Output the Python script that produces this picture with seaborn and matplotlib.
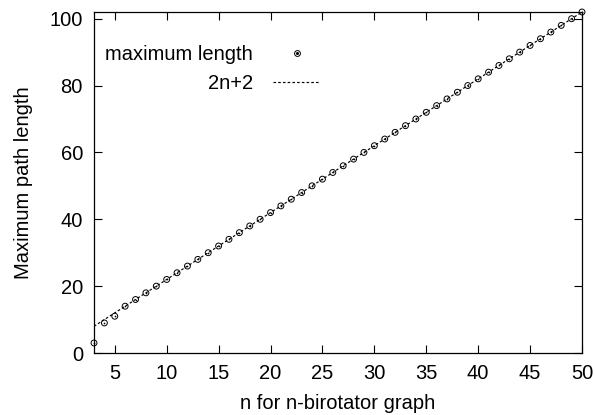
import numpy as np
import pandas as pd
import matplotlib
matplotlib.use('Agg')
import matplotlib.pyplot as plt
import seaborn as sns
from matplotlib.legend_handler import HandlerTuple

# n-birotator graph sizes and measured maximum path lengths
n_values = list(range(3, 51))
max_lengths = [3, 9, 11, 14, 16, 18, 20, 22, 24, 26, 28, 30, 32, 34, 36, 38,
               40, 42, 44, 46, 48, 50, 52, 54, 56, 58, 60, 62, 64, 66, 68, 70,
               72, 74, 76, 78, 80, 82, 84, 86, 88, 90, 92, 94, 96, 98, 100, 102]

# reference line 2n+2 (end points)
line_n = [3, 50]
line_y = [8, 102]

x_ticks = [5, 10, 15, 20, 25, 30, 35, 40, 45, 50]
y_ticks = [0, 20, 40, 60, 80, 100]

df_points = pd.DataFrame({'n': n_values, 'length': max_lengths})
df_line = pd.DataFrame({'n': line_n, 'length': line_y})

sns.set_style('ticks')
plt.rcParams['font.family'] = ['Liberation Sans', 'DejaVu Sans']
plt.rcParams['text.color'] = 'black'
plt.rcParams['axes.labelcolor'] = 'black'
fs = 14.5
plt.rcParams['font.size'] = fs

fig = plt.figure(figsize=(5.95, 4.15), dpi=100)
ax = fig.add_axes([94 / 595, 62 / 415, 488 / 595, 341 / 415])

sns.lineplot(data=df_line, x='n', y='length', ax=ax, color='black',
             linewidth=0.85, dashes=False)
ax.lines[-1].set_dashes((2.2, 1.8))

sns.scatterplot(data=df_points, x='n', y='length', ax=ax, marker='o',
                facecolor='none', edgecolor='black', linewidth=0.7, s=18,
                zorder=3, clip_on=False)
sns.scatterplot(data=df_points, x='n', y='length', ax=ax, marker='o',
                color='black', linewidth=0, s=1.5, zorder=4, clip_on=False)

ax.set_xlim(3, 50)
ax.set_ylim(0, 102)
ax.set_xticks(x_ticks)
ax.set_yticks(y_ticks)
ax.tick_params(axis='both', direction='in', length=6, width=0.8,
               top=True, right=True, labelsize=fs, pad=8, colors='black')
for s in ax.spines.values():
    s.set_visible(True)
    s.set_linewidth(0.9)
    s.set_color('black')

ax.set_xlabel('n for n-birotator graph', fontsize=fs, labelpad=8, color='black')
ax.set_ylabel('Maximum path length', fontsize=fs, labelpad=12, color='black')

# legend in gnuplot style: label first, sample on the right
pt_open = plt.Line2D([], [], marker='o', linestyle='none', markerfacecolor='none',
                     markeredgecolor='black', markeredgewidth=0.7, markersize=4.2)
pt_dot = plt.Line2D([], [], marker='o', linestyle='none', color='black',
                    markersize=1.2)
leg_line = plt.Line2D([], [], color='black', linewidth=0.85)
leg_line.set_dashes((2.2, 1.8))
ax.legend([(pt_open, pt_dot), leg_line], ['maximum length', '2n+2'],
          handler_map={tuple: HandlerTuple(ndivide=1)},
          loc='upper left', bbox_to_anchor=(0.0225, 0.903), frameon=False,
          markerfirst=False, borderpad=0, borderaxespad=0, handlelength=2.35,
          handletextpad=1.0, labelspacing=0.48, fontsize=fs, labelcolor='black')

plt.savefig('out.png', dpi=100)
